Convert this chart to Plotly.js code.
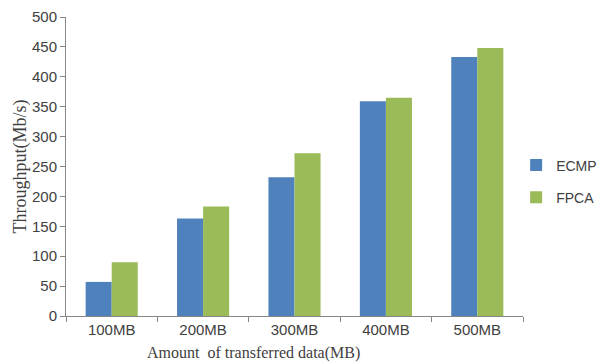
<!DOCTYPE html>
<html>
<head>
<meta charset="utf-8">
<script src="https://cdn.plot.ly/plotly-3.0.1.min.js"></script>
<style>html,body{margin:0;padding:0;background:#fff;}#chart{width:603px;height:363px;}</style>
</head>
<body>
<div id="chart"></div>
<script>
const categories = ["100MB", "200MB", "300MB", "400MB", "500MB"];
const ecmp = [57, 163, 232, 359, 433];
const fpca = [90, 183, 272, 365, 448];
const yTicks = [0, 50, 100, 150, 200, 250, 300, 350, 400, 450, 500];
const xTitle = "Amount  of transferred data(MB)";
const yTitle = "Throughput(Mb/s)";

const tickFont = {family: "Liberation Sans, Arial, sans-serif", size: 15, color: "#404040"};
const data = [
  {type: "bar", name: "ECMP", x: categories, y: ecmp, marker: {color: "#4F81BD"}, legendgroup: "a"},
  {type: "bar", name: "FPCA", x: categories, y: fpca, marker: {color: "#9BBB59"}, legendgroup: "b"}
];
const layout = {
  width: 603, height: 363,
  margin: {l: 66, r: 80, t: 17, b: 47, autoexpand: false},
  paper_bgcolor: "#fff", plot_bgcolor: "#fff",
  barmode: "group", bargap: 0.43, bargroupgap: 0,
  showlegend: true,
  legend: {x: 0.985, y: 0.45, xanchor: "left", yanchor: "middle",
           font: {family: "Liberation Sans, Arial, sans-serif", size: 14, color: "#404040"},
           traceorder: "grouped", tracegroupgap: 11, itemwidth: 30},
  xaxis: {
    showline: true, linecolor: "#868686", linewidth: 1,
    ticks: "outside", tickson: "boundaries", ticklen: 5, tickcolor: "#868686",
    showgrid: false, tickfont: tickFont
  },
  yaxis: {
    range: [0, 500], tickvals: yTicks, showline: true, linecolor: "#868686", linewidth: 1,
    ticks: "outside", ticklen: 5, tickcolor: "#868686", showgrid: false, zeroline: false,
    tickfont: tickFont,
    title: {text: yTitle, standoff: 0,
            font: {family: "Liberation Serif, Times New Roman, serif", size: 18, color: "#404040"}}
  },
  annotations: [{
    text: xTitle, xref: "paper", yref: "paper", x: 0.411, y: -0.124,
    xanchor: "center", yanchor: "middle", showarrow: false,
    font: {family: "Liberation Serif, Times New Roman, serif", size: 16, color: "#404040"}
  }]
};
Plotly.newPlot("chart", data, layout, {displayModeBar: false, staticPlot: true});
</script>
</body>
</html>
